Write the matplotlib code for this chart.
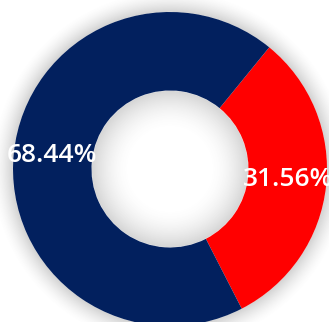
import numpy as np
import matplotlib
matplotlib.use('Agg')
import matplotlib.pyplot as plt

# slice data
labels = ['31.56%', '68.44%']
values = [31.56, 68.44]
colors = ['#ff0000', '#02205e']

W, H = 329, 322
cx, cy, R = 170, 169, 157

fig = plt.figure(figsize=(W / 100, H / 100), dpi=100)
ax = fig.add_axes([0, 0, 1, 1])

wedges, _ = ax.pie(values, colors=colors, startangle=50.8, counterclock=False,
                   radius=1.0, wedgeprops=dict(width=0.5, linewidth=0))
for w in wedges:
    w.set_zorder(1)

# soft shadow outside the ring and inside the hole
x0, x1 = -cx / R, (W - cx) / R
y0, y1 = -(H - cy) / R, cy / R
xs = np.linspace(x0, x1, W * 2)
ys = np.linspace(y0, y1, H * 2)
X, Y = np.meshgrid(xs, ys)
D = np.sqrt(X ** 2 + Y ** 2)
outer = np.clip(1 - (D - 1.0) / 0.14, 0, 1) ** 1.6 * 0.3
outer[D < 1.0] = 0
inner = np.clip(1 - (0.5 - D) / 0.25, 0, 1) ** 1.8 * 0.28
inner[D > 0.5] = 0
rgba = np.zeros(D.shape + (4,))
rgba[..., :3] = 0.4
rgba[..., 3] = outer + inner
ax.imshow(rgba, extent=[x0, x1, y0, y1], origin='lower', zorder=0,
          interpolation='bilinear')

for w, lab in zip(wedges, labels):
    ang = np.deg2rad((w.theta1 + w.theta2) / 2)
    r = 0.755
    ax.text(r * np.cos(ang), r * np.sin(ang) + 0.01, lab, ha='center', va='center',
            color='white', fontsize=19, fontweight='semibold', family='Open Sans', zorder=3)

ax.set_xlim(x0, x1)
ax.set_ylim(y0, y1)
ax.set_aspect('equal')
ax.axis('off')

fig.savefig('out.png', dpi=100)
